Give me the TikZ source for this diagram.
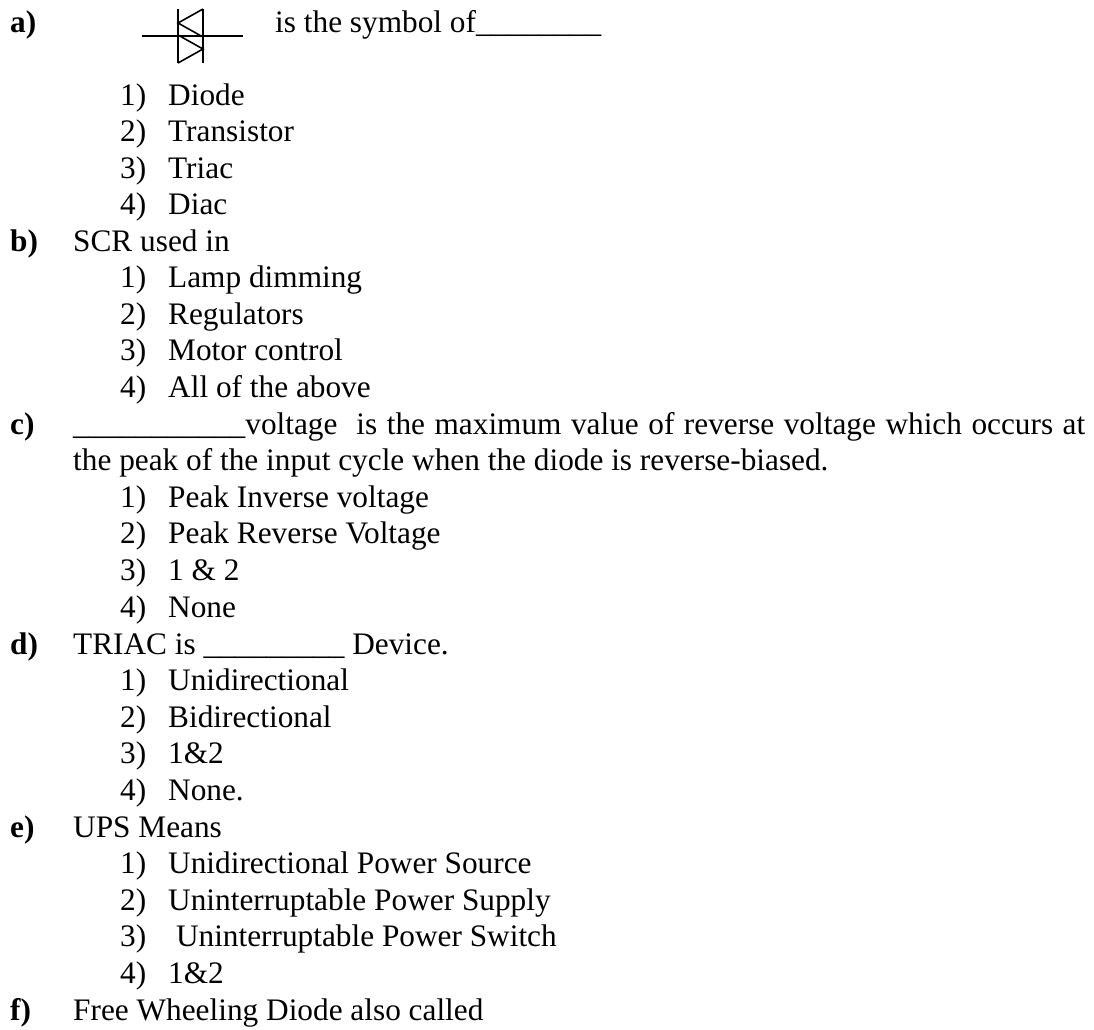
\documentclass[tikz,border=0pt]{standalone}
\usepackage{fontspec}
\setmainfont{Liberation Serif}
\usepackage{tikz}
\usetikzlibrary{positioning}

\tikzset{
	qtag/.style = {anchor = base west, inner sep = 0pt, font = \bfseries},
	qtext/.style = {anchor = base west, inner sep = 0pt},
	symline/.style = {line width = 1.6pt}
}

\begin{document}
\fontsize{31.3}{36.6}\selectfont
\begin{tikzpicture}[x = 1pt, y = -1pt]
		\useasboundingbox (0, 0) rectangle (1094, 1029);
		% question a, with the symbol
		\node[qtag] (qa) at (10, 32) {a)};
		\draw[symline] (142, 36) -- (243, 36);
		\draw[symline] (178, 9) -- (178, 63) (203, 9) -- (203, 63);
		\draw[symline] (203, 9) -- (178, 23) -- (203, 37);
		\draw[symline] (178, 35) -- (203, 49) -- (178, 63);
		\node[qtext] (qatext) at (275, 32) {is the symbol of\_\_\_\_\_\_\_\_};
		\foreach \i/\opt in {1/Diode, 2/Transistor, 3/Triac, 4/Diac} {
			\node[qtext] (qanum\i) at (120, 105 + 36.6*\i - 36.6) {\i)};
			\node[qtext] (qaopt\i) at (168, 105 + 36.6*\i - 36.6) {\opt};
		}
		% question b
		\node[qtag] (qb) at (10, 251) {b)};
		\node[qtext] (qbtext) at (73, 251) {SCR used in};
		\foreach \i/\opt in {1/Lamp dimming, 2/Regulators, 3/Motor control, 4/All of the above} {
			\node[qtext] (qbnum\i) at (120, 251 + 36.6*\i) {\i)};
			\node[qtext] (qbopt\i) at (168, 251 + 36.6*\i) {\opt};
		}
		% question c
		\node[qtag] (qc) at (10, 434) {c)};
		\node[qtext] (qctext) at (73, 434) {\hbox to 1012pt{\_\_\_\_\_\_\_\_\_\_\_voltage\ \ is the maximum value of reverse voltage which occurs at}};
		\node[qtext] (qctext2) at (73, 470.6) {the peak of the input cycle when the diode is reverse-biased.};
		\foreach \i/\opt in {1/Peak Inverse voltage, 2/Peak Reverse Voltage, 3/1 \& 2, 4/None} {
			\node[qtext] (qcnum\i) at (120, 470.6 + 36.6*\i) {\i)};
			\node[qtext] (qcopt\i) at (168, 470.6 + 36.6*\i) {\opt};
		}
		% question d
		\node[qtag] (qd) at (10, 654) {d)};
		\node[qtext] (qdtext) at (73, 654) {TRIAC is \_\_\_\_\_\_\_\_\_ Device.};
		\foreach \i/\opt in {1/Unidirectional, 2/Bidirectional, 3/1\&2, 4/None.} {
			\node[qtext] (qdnum\i) at (120, 654 + 36.6*\i) {\i)};
			\node[qtext] (qdopt\i) at (168, 654 + 36.6*\i) {\opt};
		}
		% question e
		\node[qtag] (qe) at (10, 837) {e)};
		\node[qtext] (qetext) at (73, 837) {UPS Means};
		\foreach \i/\opt in {1/Unidirectional Power Source, 2/Uninterruptable Power Supply, 3/\ Uninterruptable Power Switch, 4/1\&2} {
			\node[qtext] (qenum\i) at (120, 837 + 36.6*\i) {\i)};
			\node[qtext] (qeopt\i) at (168, 837 + 36.6*\i) {\opt};
		}
		% question f
		\node[qtag] (qf) at (10, 1020) {f)};
		\node[qtext] (qftext) at (73, 1020) {Free Wheeling Diode also called};
\end{tikzpicture}
\end{document}
